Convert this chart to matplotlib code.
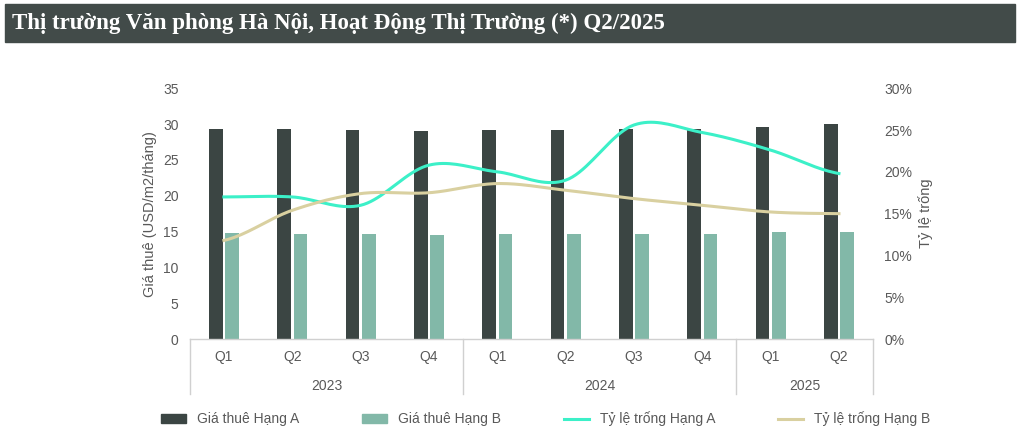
import numpy as np
import matplotlib
matplotlib.use("Agg")
from matplotlib import pyplot as plt
from matplotlib.patches import Rectangle

quarters = ["Q1", "Q2", "Q3", "Q4", "Q1", "Q2", "Q3", "Q4", "Q1", "Q2"]
years = ["2023", "2024", "2025"]
year_counts = [4, 4, 2]
rent_a = [29.3, 29.3, 29.1, 29.0, 29.1, 29.1, 29.3, 29.3, 29.6, 30.0]
rent_b = [14.8, 14.7, 14.6, 14.5, 14.6, 14.6, 14.7, 14.7, 14.9, 14.9]
vac_a = [17.0, 17.0, 16.0, 20.8, 20.0, 19.0, 25.6, 24.7, 22.6, 19.8]
vac_b = [11.8, 15.4, 17.4, 17.5, 18.6, 17.8, 16.8, 16.0, 15.2, 15.0]

C_A = "#3b4543"
C_B = "#82b8a8"
C_VA = "#3cf0c8"
C_VB = "#d9d0a0"
GREY = "#595959"
plt.rcParams["font.family"] = "Liberation Sans"


def smooth(y, n=20):
    # Catmull-Rom curve through the data points (display only)
    y = np.asarray(y, float)
    p = np.concatenate([[y[0]], y, [y[-1]]])
    xs, ys = [], []
    for i in range(len(y) - 1):
        t = np.linspace(0, 1, n, endpoint=False)
        p0, p1, p2, p3 = p[i], p[i + 1], p[i + 2], p[i + 3]
        ys.append(0.5 * (2 * p1 + (-p0 + p2) * t + (2 * p0 - 5 * p1 + 4 * p2 - p3) * t ** 2
                         + (-p0 + 3 * p1 - 3 * p2 + p3) * t ** 3))
        xs.append(i + t)
    xs.append([len(y) - 1])
    ys.append([y[-1]])
    return np.concatenate(xs), np.concatenate(ys)


fig = plt.figure(figsize=(10.2, 4.41), dpi=100)
fig.patches.append(Rectangle((0.005, 0.905), 0.99, 0.085, transform=fig.transFigure,
                             color="#424b49", zorder=0))
fig.text(0.012, 0.947, "Thị trường Văn phòng Hà Nội, Hoạt Động Thị Trường (*) Q2/2025",
         color="white", fontsize=16.5, fontweight="bold", family="Liberation Serif", va="center")

ax = fig.add_axes([0.186, 0.231, 0.67, 0.569])
x = np.arange(len(quarters))
w = 0.2
ax.bar(x - 0.12, rent_a, w, color=C_A, zorder=2)
ax.bar(x + 0.12, rent_b, w, color=C_B, zorder=2)
ax.set_ylim(0, 35)
ax.set_yticks(range(0, 36, 5))
ax.set_xlim(-0.5, len(quarters) - 0.5)
ax.set_xticks(x)
ax.set_xticklabels(quarters)
ax.set_ylabel("Giá thuê (USD/m2/tháng)", color=GREY, fontsize=10.5)
ax.tick_params(colors=GREY, labelsize=10, length=0, pad=8)
for s in ax.spines.values():
    s.set_visible(False)

ax2 = ax.twinx()
ax2.plot(*smooth(vac_a), color=C_VA, lw=2.2, zorder=3)
ax2.plot(*smooth(vac_b), color=C_VB, lw=2.2, zorder=3)
ax2.set_ylim(0, 30)
ax2.set_yticks(range(0, 31, 5))
ax2.set_yticklabels([f"{v}%" for v in range(0, 31, 5)])
ax2.set_ylabel("Tỷ lệ trống", color=GREY, fontsize=10.5)
ax2.tick_params(colors=GREY, labelsize=10, length=0, pad=8)
for s in ax2.spines.values():
    s.set_visible(False)

# year groups under quarter labels
trans = ax.get_xaxis_transform()
start = 0
bounds = [-0.5]
for yr, n in zip(years, year_counts):
    ax.text(start + (n - 1) / 2, -0.185, yr, transform=trans, ha="center", va="center",
            color=GREY, fontsize=10)
    start += n
    bounds.append(start - 0.5)
for b in bounds:
    ax.plot([b, b], [0, -0.22], transform=trans, color="#d0d0d0", lw=1, clip_on=False)
ax.plot([-0.5, len(quarters) - 0.5], [0, 0], transform=trans, color="#d0d0d0", lw=1, clip_on=False)

handles = [Rectangle((0, 0), 1, 1, color=C_A), Rectangle((0, 0), 1, 1, color=C_B),
           plt.Line2D([], [], color=C_VA, lw=2.2), plt.Line2D([], [], color=C_VB, lw=2.2)]
labels = ["Giá thuê Hạng A", "Giá thuê Hạng B", "Tỷ lệ trống Hạng A", "Tỷ lệ trống Hạng B"]
leg = fig.legend(handles, labels, loc="center", bbox_to_anchor=(0.535, 0.05), ncol=4,
                 frameon=False, fontsize=10, columnspacing=4.5, handlelength=1.8)
for t in leg.get_texts():
    t.set_color(GREY)

fig.savefig("out.png", dpi=100)
